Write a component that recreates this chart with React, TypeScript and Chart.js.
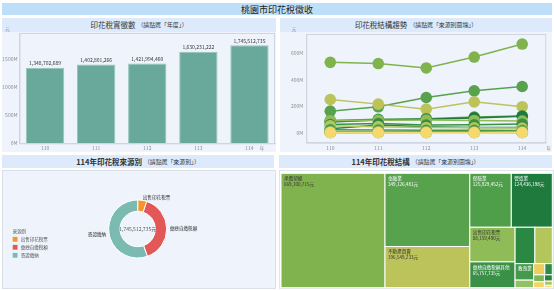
import React, { useEffect, useRef } from 'react';
import { Chart, registerables } from 'chart.js';
Chart.register(...registerables);

const FONT = '"Noto Sans CJK TC", "Noto Sans", sans-serif';

// ---------- data ----------
const years = ['110', '111', '112', '113', '114'];
const totalTax = [1348702689, 1402801266, 1421994460, 1630231222, 1745512735];
const barTicks = [0, 500e6, 1000e6, 1500e6];
const lineTicks = [0, 200e6, 400e6, 600e6];

const sourceNames = ['出售印花稅票', '彙總自繳稅額', '憑證繳納'];
const sourceValues = [88159490, 690245118, 967108127];
const sourceColors = ['#f4952d', '#e25858', '#7bbab1'];

const itemNames = [
  '承攬契據', '金融業', '不動產買賣', '保險業', '營造業', '出售印花稅票', '彙總自繳稅額其他',
  '批發及零售業', '其他服務業', '教育業', '專業科學及技術服務業', '住宿及餐飲業', '運輸及倉儲業',
  '醫療保健業', '資訊及通訊業', '農林漁牧業', '公共行政業', '其他',
];
const itemValues = [
  669100715, 349126481, 196549233, 125929452, 124436198, 88159490, 65757735,
  40512330, 35604218, 17203465, 7912006, 7018342, 4703119,
  4210337, 3587902, 2804115, 1856590, 1041007,
];
const itemColors = [
  '#80b34d', '#58a24e', '#bcc35a', '#4f9f4a', '#1f7a3d', '#8fbc56', '#3a9047',
  '#2a8843', '#b3c65c', '#45994d', '#92c064', '#eecd5e', '#2d8b47',
  '#7bb957', '#f3d465', '#2f7f41', '#a7c95f', '#f5d86e',
];

// yearly trend per item (110..114)
const trend承攬契據 = [531e6, 522e6, 489e6, 571e6, 669100715];
const trend金融業 = [163e6, 196e6, 266e6, 316e6, 349126481];
const trend不動產買賣 = [251e6, 216e6, 178e6, 233e6, 196549233];
const trend保險業 = [92e6, 102e6, 106e6, 118e6, 125929452];
const trend營造業 = [82e6, 96e6, 101e6, 112e6, 124436198];
const trend出售印花稅票 = [90e6, 94e6, 96e6, 93e6, 88159490];
const trend彙總其他 = [62e6, 70e6, 58e6, 60e6, 65757735];
const trend批發零售 = [30e6, 58e6, 46e6, 40e6, 40512330];
const trend其他服務 = [52e6, 46e6, 40e6, 37e6, 35604218];
const trend教育業 = [22e6, 20e6, 19e6, 18e6, 17203465];
const trend專業科學 = [9e6, 9e6, 8e6, 8e6, 7912006];
const trend住宿餐飲 = [4e6, 5e6, 6e6, 6e6, 7018342];
const trend運輸倉儲 = [5e6, 5e6, 4e6, 5e6, 4703119];
const trend醫療保健 = [4e6, 4e6, 4e6, 4e6, 4210337];
const trend資訊通訊 = [3e6, 3e6, 3e6, 3e6, 3587902];
const trend農林漁牧 = [2e6, 2e6, 3e6, 3e6, 2804115];
const trend公共行政 = [2e6, 2e6, 2e6, 2e6, 1856590];
const trend其他 = [1e6, 1e6, 1e6, 1e6, 1041007];
const trendSeries = [
  trend承攬契據, trend金融業, trend不動產買賣, trend保險業, trend營造業, trend出售印花稅票, trend彙總其他,
  trend批發零售, trend其他服務, trend教育業, trend專業科學, trend住宿餐飲, trend運輸倉儲,
  trend醫療保健, trend資訊通訊, trend農林漁牧, trend公共行政, trend其他,
];

// ---------- style ----------
const TITLE_BG = '#bedffa';
const HEAD_BG = '#dceafb';
const BODY_BG = '#eef3fc';
const AXIS = '#cfd6e1';
const TICK = '#8d8d8d';
const fmt = (v: number) => Math.round(v).toLocaleString('en-US');

const framePlugin = {
  id: 'frame',
  beforeDatasetsDraw(chart: any) {
    const { ctx, chartArea: a } = chart;
    ctx.save();
    ctx.strokeStyle = AXIS;
    ctx.lineWidth = 1;
    ctx.strokeRect(a.left + 0.5, a.top + 0.5, a.right - a.left - 1, a.bottom - a.top);
    ctx.restore();
  },
};

const unitsPlugin = (yx: number, yy: number, xx: number, xy: number) => ({
  id: 'units',
  afterDraw(chart: any) {
    const { ctx } = chart;
    ctx.save();
    ctx.fillStyle = TICK;
    ctx.font = `4.5px ${FONT}`;
    ctx.textAlign = 'center';
    ctx.textBaseline = 'middle';
    ctx.fillText('元', yx, yy);
    ctx.fillText('年', xx, xy);
    ctx.restore();
  },
});

const barLabelPlugin = {
  id: 'barLabels',
  afterDatasetsDraw(chart: any) {
    const { ctx } = chart;
    const meta = chart.getDatasetMeta(0);
    ctx.save();
    ctx.fillStyle = '#333';
    ctx.font = `5px ${FONT}`;
    ctx.textAlign = 'center';
    ctx.textBaseline = 'bottom';
    meta.data.forEach((bar: any, i: number) => {
      ctx.fillText(fmt(totalTax[i]), bar.x, bar.y - 2);
    });
    ctx.restore();
  },
};

const tickFont = { size: 5, family: FONT };

const barConfig = (): any => ({
  type: 'bar',
  data: {
    labels: years,
    datasets: [{
      data: totalTax,
      backgroundColor: '#68a99c',
      borderColor: '#93c6bb',
      borderWidth: 1,
      categoryPercentage: 1,
      barPercentage: 0.75,
    }],
  },
  options: {
    responsive: false,
    animation: false,
    layout: { padding: { top: 15, right: 1, left: 0, bottom: 0 } },
    plugins: { legend: { display: false }, tooltip: { enabled: false } },
    scales: {
      x: {
        grid: { display: false, drawTicks: false },
        border: { color: AXIS },
        ticks: { color: TICK, font: tickFont, padding: 2, maxRotation: 0 },
        afterFit: (s: any) => { s.height = 8.7; },
      },
      y: {
        min: 0,
        max: 1966e6,
        grid: { display: false, drawTicks: false },
        border: { color: AXIS },
        ticks: { color: TICK, font: tickFont, padding: 2, callback: (v: any) => `${Math.round(v / 1e6)}M` },
        afterBuildTicks: (s: any) => { s.ticks = barTicks.map((v) => ({ value: v })); },
        afterFit: (s: any) => { s.width = 17.5; },
      },
    },
  },
  plugins: [framePlugin, barLabelPlugin, unitsPlugin(5.5, 11.5, 260, 130)],
});

const lineConfig = (): any => ({
  type: 'line',
  data: {
    labels: years,
    datasets: itemNames.map((name, i) => ({
      label: name,
      data: trendSeries[i],
      borderColor: itemColors[i],
      backgroundColor: itemColors[i],
      pointRadius: 5.8,
      pointHoverRadius: 5.8,
      pointBorderWidth: 0,
      borderWidth: 1.5,
      order: -i,
    })),
  },
  options: {
    responsive: false,
    animation: false,
    layout: { padding: { top: 16, right: 0, left: 0, bottom: 0 } },
    plugins: { legend: { display: false }, tooltip: { enabled: false } },
    scales: {
      x: {
        offset: true,
        grid: { display: false, drawTicks: false },
        border: { color: AXIS },
        ticks: { color: TICK, font: tickFont, padding: 2, maxRotation: 0 },
        afterFit: (s: any) => { s.height = 9.3; },
      },
      y: {
        min: -75e6,
        max: 745e6,
        grid: { display: false, drawTicks: false },
        border: { color: AXIS },
        ticks: { color: TICK, font: tickFont, padding: 3, callback: (v: any) => `${Math.round(v / 1e6)}M` },
        afterBuildTicks: (s: any) => { s.ticks = lineTicks.map((v) => ({ value: v })); },
        afterFit: (s: any) => { s.width = 26.3; },
      },
    },
  },
  plugins: [framePlugin, unitsPlugin(14, 11.5, 268.7, 130)],
});

const donutPlugin = {
  id: 'donutText',
  afterDatasetsDraw(chart: any) {
    const { ctx } = chart;
    const meta = chart.getDatasetMeta(0);
    ctx.save();
    const arc0 = meta.data[0];
    ctx.fillStyle = '#555';
    ctx.font = `5px ${FONT}`;
    ctx.textAlign = 'center';
    ctx.textBaseline = 'middle';
    const total = sourceValues.reduce((a, b) => a + b, 0);
    ctx.fillText(`${fmt(total)}元`, arc0.x, arc0.y);
    ctx.font = `4.6px ${FONT}`;
    ctx.fillStyle = '#333';
    meta.data.forEach((arc: any, i: number) => {
      const mid = (arc.startAngle + arc.endAngle) / 2;
      const r = arc.outerRadius + 3;
      const px = arc.x + Math.cos(mid) * r;
      const py = arc.y + Math.sin(mid) * r;
      ctx.textAlign = Math.cos(mid) >= 0 ? 'left' : 'right';
      ctx.fillText(sourceNames[i], px, py);
    });
    // legend
    ctx.textAlign = 'left';
    ctx.fillStyle = '#555';
    ctx.font = `4.5px ${FONT}`;
    ctx.fillText('來源別', 10.7, 61);
    sourceNames.forEach((n, i) => {
      const y = 69.3 + i * 8;
      ctx.fillStyle = sourceColors[i];
      ctx.fillRect(10.7, y - 2.4, 4.8, 4.8);
      ctx.fillStyle = '#555';
      ctx.fillText(n, 18.7, y);
    });
    ctx.restore();
  },
};

const donutConfig = (): any => ({
  type: 'doughnut',
  data: {
    labels: sourceNames,
    datasets: [{
      data: sourceValues,
      backgroundColor: sourceColors,
      borderColor: '#ffffff',
      borderWidth: 1,
    }],
  },
  options: {
    responsive: false,
    animation: false,
    cutout: '61%',
    layout: { padding: { top: 29.5, bottom: 30.5, left: 106.2, right: 108.8 } },
    plugins: { legend: { display: false }, tooltip: { enabled: false } },
  },
  plugins: [donutPlugin],
});

// squarified treemap with golden-ratio target (as in d3.treemapSquarify)
type Rect = { x: number; y: number; w: number; h: number };
function squarify(values: number[], X0: number, Y0: number, X1: number, Y1: number): Rect[] {
  const ratio = (1 + Math.sqrt(5)) / 2;
  const rects: Rect[] = [];
  let x0 = X0, y0 = Y0, x1 = X1, y1 = Y1;
  let value = values.reduce((a, b) => a + b, 0);
  const n = values.length;
  let i0 = 0, i1 = 0;
  while (i0 < n) {
    const dx = x1 - x0, dy = y1 - y0;
    let sumValue = values[i1++];
    let minValue = sumValue, maxValue = sumValue;
    const alpha = Math.max(dy / dx, dx / dy) / (value * ratio);
    let beta = sumValue * sumValue * alpha;
    let minRatio = Math.max(maxValue / beta, beta / minValue);
    for (; i1 < n; ++i1) {
      const nv = values[i1];
      sumValue += nv;
      if (nv < minValue) minValue = nv;
      if (nv > maxValue) maxValue = nv;
      beta = sumValue * sumValue * alpha;
      const newRatio = Math.max(maxValue / beta, beta / minValue);
      if (newRatio > minRatio) { sumValue -= nv; break; }
      minRatio = newRatio;
    }
    const row = values.slice(i0, i1);
    if (dx < dy) {
      // dice: horizontal row on top
      const ny = i1 < n ? y0 + (dy * sumValue) / value : y1;
      let cx = x0;
      row.forEach((v) => {
        const w = (dx * v) / sumValue;
        rects.push({ x: cx, y: y0, w, h: ny - y0 });
        cx += w;
      });
      y0 = ny;
    } else {
      // slice: vertical column on left
      const nx = i1 < n ? x0 + (dx * sumValue) / value : x1;
      let cy = y0;
      row.forEach((v) => {
        const h = (dy * v) / sumValue;
        rects.push({ x: x0, y: cy, w: nx - x0, h });
        cy += h;
      });
      x0 = nx;
    }
    value -= sumValue;
    i0 = i1;
  }
  return rects;
}
function lum(hex: string) {
  const n = parseInt(hex.slice(1), 16);
  return (0.299 * ((n >> 16) & 255) + 0.587 * ((n >> 8) & 255) + 0.114 * (n & 255)) / 255;
}

const treemapPlugin = {
  id: 'treemap',
  afterDraw(chart: any) {
    const { ctx, scales } = chart;
    const x0 = scales.x.getPixelForValue(0);
    const x1 = scales.x.getPixelForValue(1);
    const yt = scales.y.getPixelForValue(1);
    const yb = scales.y.getPixelForValue(0);
    const rects = squarify(itemValues, x0, yt, x1, yb);
    ctx.save();
    rects.forEach((r, i) => {
      ctx.fillStyle = itemColors[i];
      ctx.fillRect(r.x, r.y, r.w, r.h);
      ctx.strokeStyle = '#ffffff';
      ctx.lineWidth = 1;
      ctx.strokeRect(r.x, r.y, r.w, r.h);
    });
    ctx.font = `4.6px ${FONT}`;
    ctx.textAlign = 'left';
    ctx.textBaseline = 'middle';
    rects.forEach((r, i) => {
      ctx.fillStyle = lum(itemColors[i]) > 0.57 ? '#333333' : '#ffffff';
      const name = itemNames[i];
      const val = `${fmt(itemValues[i])}元`;
      if (ctx.measureText(name).width + 2 <= r.w && r.h >= 9) ctx.fillText(name, r.x + 3, r.y + 5);
      if (ctx.measureText(val).width + 4 <= r.w && r.h >= 15) ctx.fillText(val, r.x + 3, r.y + 11);
    });
    ctx.restore();
  },
};

const treemapConfig = (): any => ({
  type: 'scatter',
  data: { datasets: [{ data: [] }] },
  options: {
    responsive: false,
    animation: false,
    layout: { padding: { top: 3.3, bottom: 1.3, left: 1, right: 0.7 } },
    plugins: { legend: { display: false }, tooltip: { enabled: false } },
    scales: {
      x: { type: 'linear', min: 0, max: 1, display: false },
      y: { type: 'linear', min: 0, max: 1, display: false },
    },
  },
  plugins: [treemapPlugin],
});

function ChartBox({ x, y, w, h, config }: any) {
  const ref = useRef<HTMLCanvasElement>(null);
  useEffect(() => {
    const chart = new Chart(ref.current as HTMLCanvasElement, config());
    return () => chart.destroy();
  }, []);
  return (
    <canvas
      ref={ref}
      width={w}
      height={h}
      style={{ position: 'absolute', left: x, top: y, width: w, height: h }}
    />
  );
}

function Header({ x, y, w, h, title, sub, bold }: any) {
  return (
    <div
      style={{
        position: 'absolute', left: x, top: y, width: w, height: h, background: HEAD_BG,
        display: 'flex', alignItems: 'center', justifyContent: 'center', fontFamily: FONT, color: '#333',
        whiteSpace: 'nowrap', lineHeight: 1,
      }}
    >
      <span style={{ fontSize: 7.5, fontWeight: bold ? 700 : 400 }}>{title}</span>
      <span style={{ fontSize: 5.9, marginLeft: 2 }}>{sub}</span>
    </div>
  );
}

export default function App() {
  return (
    <div style={{ position: 'fixed', left: 0, top: 0, width: 554, height: 290, background: '#fff', overflow: 'hidden' }}>
      <div
        style={{
          position: 'absolute', left: 2, top: 3, width: 550, height: 12, background: TITLE_BG,
          display: 'flex', alignItems: 'center', justifyContent: 'center', fontFamily: FONT,
          fontSize: 9, color: '#222', lineHeight: 1,
        }}
      >
        桃園市印花稅徵收
      </div>

      <Header x={2} y={18} w={274} h={14} title="印花稅實徵數" sub="（請點選「年度」）" />
      <div style={{ position: 'absolute', left: 2, top: 32, width: 274, height: 120, background: BODY_BG }} />
      <ChartBox x={2} y={18} w={274} h={134} config={barConfig} />

      <Header x={280} y={18} w={272} h={14} title="印花稅結構趨勢" sub="（請點選「來源別圖塊」）" />
      <div style={{ position: 'absolute', left: 280, top: 32, width: 272, height: 120, background: BODY_BG }} />
      <ChartBox x={280} y={18} w={272} h={134} config={lineConfig} />

      <Header x={2} y={155} w={272} h={13} title="114年印花稅來源別" sub="（請點選「來源別」）" bold />
      <div style={{ position: 'absolute', left: 2, top: 170, width: 272, height: 117, background: BODY_BG, border: '1px solid #d9e0ea' }} />
      <ChartBox x={2} y={170} w={274} h={119} config={donutConfig} />

      <Header x={279} y={155} w={273} h={13} title="114年印花稅結構" sub="（請點選「來源別圖塊」）" bold />
      <div style={{ position: 'absolute', left: 279, top: 170, width: 273, height: 117, background: '#fff', border: '1px solid #dfe5ee' }} />
      <ChartBox x={280} y={170} w={273} h={119} config={treemapConfig} />
    </div>
  );
}
